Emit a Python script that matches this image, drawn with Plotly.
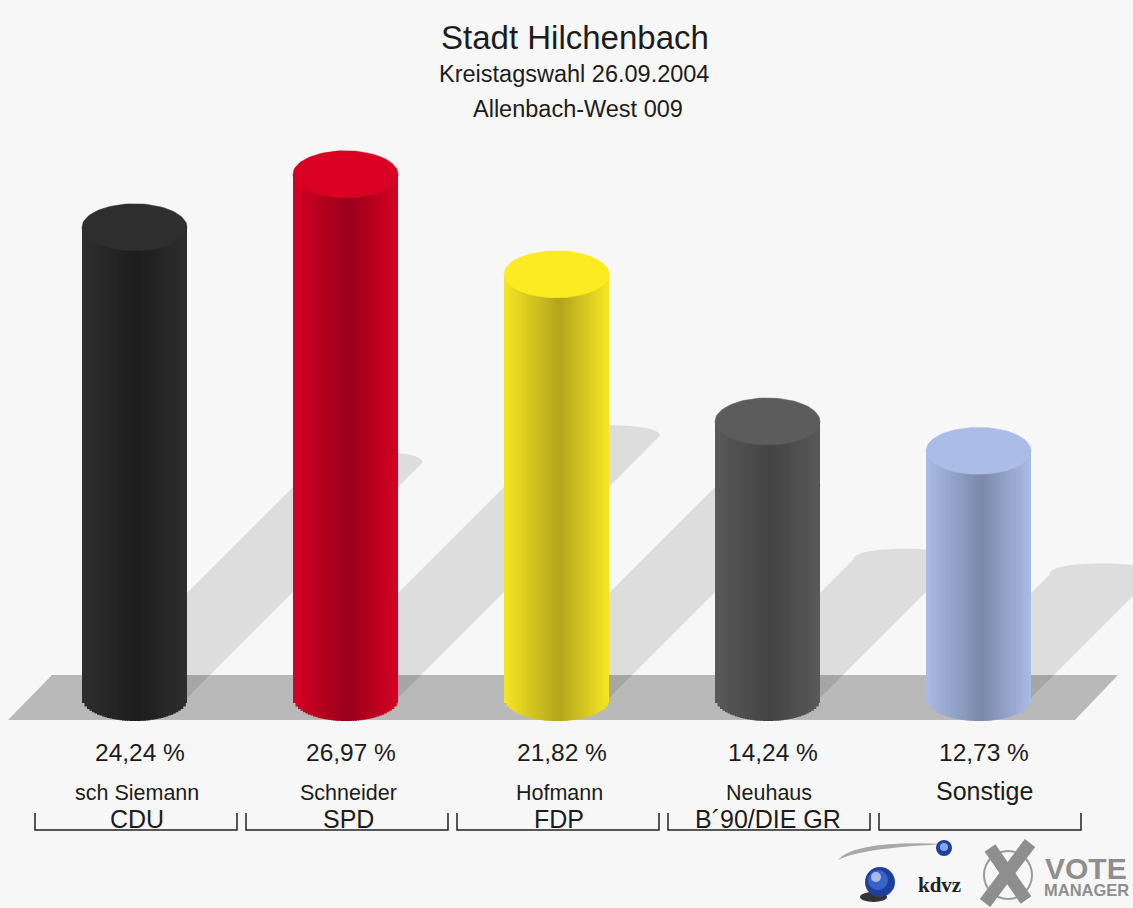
import math
import plotly.graph_objects as go

# ---- data ----
parties = ["CDU", "SPD", "FDP", "B´90/DIE GR", ""]
candidates = ["sch Siemann", "Schneider", "Hofmann", "Neuhaus", "Sonstige"]
shares = [24.24, 26.97, 21.82, 14.24, 12.73]
share_labels = ["24,24 %", "26,97 %", "21,82 %", "14,24 %", "12,73 %"]
title_lines = ["Stadt Hilchenbach", "Kreistagswahl 26.09.2004", "Allenbach-West 009"]

cap_colors = ["#2e2e2e", "#d90024", "#fdeb22", "#5c5c5c", "#abbce7"]
edge_colors = ["#2e2e2e", "#d60022", "#f6e722", "#5a5a5a", "#aabbe5"]
dark_colors = ["#1d1d1d", "#98001a", "#b3a41c", "#434343", "#7a89aa"]

# ---- geometry of the page ----
W, H = 1133, 908
X0, DX = 134.5, 211.0      # px of first cylinder, px between cylinders
Y0, DY = 698.0, 19.42      # px of value 0, px per percentage point
HALF_W, HALF_H = 52.5, 23.5
N_STRIPS = 42


def hexrgb(c):
    return tuple(int(c[i:i + 2], 16) for i in (1, 3, 5))


def mix(a, b, t):
    ra, rb = hexrgb(a), hexrgb(b)
    return "rgb(%d,%d,%d)" % tuple(round(p + (q - p) * t) for p, q in zip(ra, rb))


def px(x):
    return x / W


def py(y):
    return 1 - y / H


fig = go.Figure()
idx = list(range(len(shares)))
half_u = HALF_W / DX
strip = 2 * half_u / N_STRIPS

# cylinder bodies: vertical strips, each starts on the lower rim
for s in range(N_STRIPS):
    c = (s + 0.5) / N_STRIPS
    u = 2 * c - 1
    base = -(HALF_H - 0.5) / DY * math.sqrt(max(0, 1 - u * u))
    t = c / 0.53 if c < 0.53 else (1 - c) / 0.47
    t = 1 - t
    t = max(0, 1 - t) if False else t
    colors = [mix(e, d, 1 - t) for e, d in zip(edge_colors, dark_colors)]
    last = s == N_STRIPS - 1
    fig.add_bar(
        x=idx,
        y=[v - base for v in shares],
        base=[base] * len(shares),
        width=strip if last else strip * 1.5,
        offset=-half_u + s * strip,
        marker=dict(color=colors, line=dict(width=0)),
        hoverinfo="skip",
        showlegend=False,
    )

# cylinder tops
for i, v in enumerate(shares):
    ts = [2 * math.pi * k / 90 for k in range(91)]
    fig.add_scatter(
        x=[i + half_u * math.cos(t) for t in ts],
        y=[v + HALF_H / DY * math.sin(t) for t in ts],
        mode="lines",
        fill="toself",
        fillcolor=cap_colors[i],
        line=dict(width=0.5, color=cap_colors[i]),
        hoverinfo="skip",
        showlegend=False,
    )

shapes = []
# floor band
shapes.append(dict(
    type="path", layer="below", xref="paper", yref="paper",
    path="M %f %f L %f %f L %f %f L %f %f Z" % (
        px(8), py(720), px(52), py(675), px(1118), py(675), px(1075), py(720)),
    fillcolor="#b9b9b9", line=dict(width=0)))

# slanted shadows, derived from the values
for i, v in enumerate(shares):
    h = v / 2
    dx_u = (v * DY / 2) / DX
    left, right = i - half_u, i + half_u
    pts = ["M %f 0" % left, "L %f %f" % (left + dx_u, h)]
    for k in range(1, 25):
        t = math.pi * (1 - k / 24)
        pts.append("L %f %f" % (i + dx_u + half_u * math.cos(t),
                                h + 11 / DY * math.sin(t) ** 0.8))
    pts.append("L %f 0 Z" % right)
    shapes.append(dict(type="path", layer="below", xref="x", yref="y",
                       path=" ".join(pts), fillcolor="rgba(0,0,0,0.1)",
                       line=dict(width=0)))

# party brackets
for i in idx:
    a, b = 35 + i * 211, 237 + i * 211
    shapes.append(dict(
        type="path", xref="paper", yref="paper",
        path="M %f %f L %f %f L %f %f L %f %f" % (
            px(a), py(813), px(a), py(830), px(b), py(830), px(b), py(813)),
        line=dict(color="#222222", width=1.5)))

# logo shapes
shapes.append(dict(
    type="path", xref="paper", yref="paper",
    path="M %f %f Q %f %f %f %f Q %f %f %f %f Z" % (
        px(947), py(844), px(855), py(840), px(838), py(860),
        px(860), py(848), px(947), py(844)),
    fillcolor="#a8a8a8", line=dict(width=0)))
shapes.append(dict(type="circle", xref="paper", yref="paper",
                   x0=px(860), x1=px(887), y0=py(902), y1=py(892),
                   fillcolor="#333333", line=dict(width=0)))
for r, col, cx, cy in [(15, "#1f3f9e", 880, 882), (10, "#3a63c8", 878, 880),
                       (5, "#a9bcec", 876, 877),
                       (8, "#1f3f9e", 944, 848), (4, "#8aa5e6", 944, 847)]:
    ry = r
    shapes.append(dict(type="circle", xref="paper", yref="paper",
                       x0=px(cx - r), x1=px(cx + r), y0=py(cy + ry), y1=py(cy - ry),
                       fillcolor=col, line=dict(width=0)))
shapes.append(dict(type="circle", xref="paper", yref="paper",
                   x0=px(984), x1=px(1032), y0=py(899), y1=py(851),
                   line=dict(color="#9a9a9a", width=2)))
for a, b, c, d in [(990, 848, 1026, 900), (1030, 843, 985, 903)]:
    shapes.append(dict(type="line", xref="paper", yref="paper",
                       x0=px(a), y0=py(b), x1=px(c), y1=py(d),
                       line=dict(color="#8e8e8e", width=13)))


def label(text, x, y, size, color="#1c1c1c", family="Liberation Sans", bold=False):
    return dict(text="<b>%s</b>" % text if bold else text, x=px(x), y=py(y),
                xref="paper", yref="paper", xanchor="center", yanchor="middle",
                showarrow=False, font=dict(size=size, color=color, family=family))


annotations = [
    label(title_lines[0], 575, 37, 33),
    label(title_lines[1], 574, 74, 23.5),
    label(title_lines[2], 578, 109, 23.5),
    label("kdvz", 939, 885, 21, "#222222", "Liberation Serif", True),
    label("VOTE", 1086, 868, 30, "#8e8e8e", "Liberation Sans", True),
    label("MANAGER", 1086, 890, 16.5, "#8e8e8e", "Liberation Sans", True),
]
for i in idx:
    annotations.append(label(share_labels[i], 140 + i * 211, 752, 24.5))
    size = 25 if candidates[i] == "Sonstige" else 21.5
    y = 791 if candidates[i] == "Sonstige" else 793
    annotations.append(label(candidates[i], 137 + i * 211 + (3 if i == 4 else 0) - (i == 3), y, size))
    if parties[i]:
        annotations.append(label(parties[i], 137 + i * 211 - (i == 3) * 2, 819, 25))

fig.update_layout(
    width=W, height=H,
    margin=dict(l=0, r=0, t=0, b=0),
    paper_bgcolor="#f7f7f7", plot_bgcolor="rgba(0,0,0,0)",
    barmode="overlay", showlegend=False,
    shapes=shapes, annotations=annotations,
    xaxis=dict(range=[-X0 / DX, (W - X0) / DX], visible=False, fixedrange=True),
    yaxis=dict(range=[(Y0 - H) / DY, Y0 / DY], visible=False, fixedrange=True),
)

fig.write_html(
    "out.html",
    config=dict(displayModeBar=False),
    post_script="document.body.style.margin='0';document.body.style.overflow='hidden';document.body.style.background='#f7f7f7';",
)
